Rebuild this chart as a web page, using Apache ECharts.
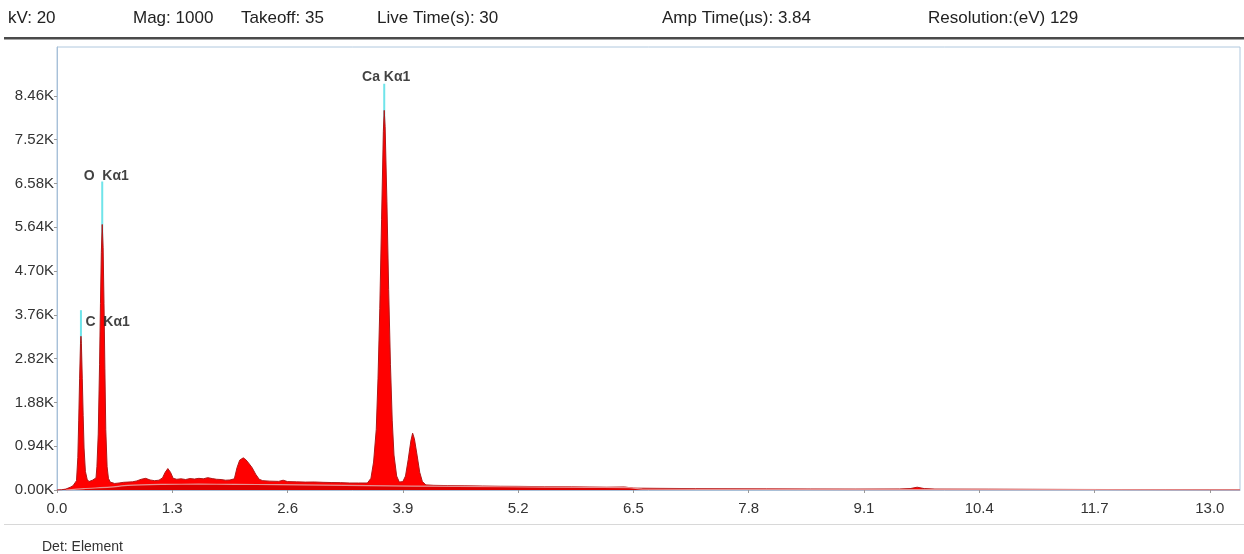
<!DOCTYPE html>
<html><head><meta charset="utf-8">
<script src="https://cdn.jsdelivr.net/npm/echarts@6/dist/echarts.min.js"></script>
<style>html,body{margin:0;padding:0;background:#fff}#c{width:1244px;height:554px}</style>
</head><body><div id="c"></div><script>
// Spectrum: energy (keV) and counts
const energies = [0.00,0.05,0.10,0.15,0.18,0.20,0.22,0.235,0.245,0.255,0.265,0.27,0.275,0.285,0.295,0.305,0.32,0.34,0.36,0.38,0.40,0.42,0.44,0.45,0.465,0.48,0.49,0.50,0.51,0.52,0.53,0.54,0.55,0.565,0.58,0.60,0.65,0.70,0.75,0.80,0.85,0.90,0.95,1.00,1.05,1.10,1.15,1.19,1.22,1.25,1.28,1.31,1.35,1.40,1.45,1.50,1.55,1.60,1.65,1.70,1.75,1.80,1.85,1.90,1.95,2.00,2.03,2.06,2.10,2.13,2.16,2.20,2.24,2.28,2.32,2.40,2.50,2.55,2.60,2.70,2.80,2.90,3.00,3.10,3.20,3.30,3.40,3.45,3.50,3.54,3.57,3.60,3.62,3.64,3.66,3.68,3.69,3.70,3.72,3.74,3.76,3.78,3.80,3.83,3.86,3.90,3.93,3.96,3.99,4.01,4.03,4.06,4.09,4.12,4.16,4.25,4.40,4.60,4.80,5.00,5.20,5.50,5.80,6.00,6.20,6.40,6.50,6.80,7.20,7.60,8.00,8.50,9.00,9.50,9.62,9.70,9.78,9.90,10.50,11.00,11.50,12.00,12.50,13.00,13.34];
const counts   = [0,5,20,60,90,110,200,700,1500,2400,3150,3300,3150,2400,1600,900,400,230,180,160,210,190,260,500,1200,2700,4000,5100,5700,5200,4000,2600,1300,500,250,170,140,150,165,170,175,195,230,250,215,200,210,260,380,460,380,250,230,240,225,245,235,250,240,265,245,230,225,210,215,240,480,640,690,650,580,480,340,230,200,190,185,210,180,175,170,172,165,160,158,150,150,150,150,250,600,1300,2400,3900,5800,7700,8150,7800,6200,4300,2700,1500,750,300,170,180,300,650,1050,1220,1100,750,380,180,110,100,95,90,85,80,78,72,68,64,60,65,40,35,30,28,25,22,20,22,30,60,30,20,18,15,12,10,8,6,5];
// Fitted background under the spectrum
const bgEnergies = [0.10,0.30,0.60,0.80,1.20,1.60,2.00,2.50,3.00,3.50,4.00,5.00,6.00,6.45,6.60,8.00,10.00,13.34];
const bgCounts   = [0,30,60,100,120,125,120,115,105,95,85,70,55,50,20,12,8,5];
// Element marker lines
const markerNames    = ['C  Kα1','O  Kα1','Ca Kα1'];
const markerEnergies = [0.27, 0.51, 3.69];
const markerHeights  = [3860, 6620, 8720];
// Header info and tick labels
const headerItems = ['kV: 20','Mag: 1000','Takeoff: 35','Live Time(s): 30','Amp Time(µs): 3.84','Resolution:(eV) 129'];
const footerText = 'Det: Element';
const xTickValues = [0,1.3,2.6,3.9,5.2,6.5,7.8,9.1,10.4,11.7,13.0];
const yTickValues = [0,940,1880,2820,3760,4700,5640,6580,7520,8460];
const xMax = 13.34, yMax = 9510;

const headerX = [8,133,241,377,662,928];
const labelPos = [
  {position:'right', distance:4, offset:[0,12]},
  {position:'top', distance:0, offset:[4,2]},
  {position:'top', distance:0, offset:[2,1]}
];
const FONT = 'Liberation Sans, Arial, sans-serif';

const chart = echarts.init(document.getElementById('c'));
const series = [];
markerEnergies.forEach((e,i)=>{
  series.push({type:'line', data:[[e,0],[e,markerHeights[i]]], symbol:'none', silent:true, z:1,
    lineStyle:{color:'#70e4ea', width:2}});
});
series.push({type:'line', data:energies.map((e,i)=>[e,counts[i]]), symbol:'none', z:3,
  lineStyle:{color:'#b01818', width:1}, areaStyle:{color:'#ff0000', opacity:1}});
series.push({type:'line', data:bgEnergies.map((e,i)=>[e,bgCounts[i]]), symbol:'none', z:4, smooth:0.3,
  lineStyle:{color:'#e89090', width:1.2}, areaStyle:{color:'#dd0000', opacity:1}});
series.push({type:'scatter', symbolSize:1, z:5, itemStyle:{color:'rgba(0,0,0,0)'},
  data: markerEnergies.map((e,i)=>({value:[e,markerHeights[i]],
    label:Object.assign({show:true, formatter:markerNames[i], color:'#111', fontWeight:'bold',
      fontSize:14, fontFamily:FONT}, labelPos[i])}))});

const graphic = headerItems.map((t,i)=>({type:'text', left:headerX[i], top:10,
  style:{text:t, fontSize:17, fill:'#222', fontFamily:FONT}}));
graphic.push({type:'rect', shape:{x:4,y:37,width:1240,height:2.5}, style:{fill:'#4a4a4a'}});
graphic.push({type:'rect', shape:{x:4,y:524,width:1240,height:1}, style:{fill:'#d8d8d8'}});
graphic.push({type:'text', left:42, top:540, style:{text:footerText, fontSize:14, fill:'#333', fontFamily:FONT}});

chart.setOption({
  animation:false,
  backgroundColor:'#ffffff',
  grid:{left:57, right:4, top:47, bottom:64, show:true, borderColor:'#b0c8de', borderWidth:1, backgroundColor:'#fff'},
  xAxis:{type:'value', min:0, max:xMax,
    axisLine:{lineStyle:{color:'#a8c0d8'}},
    axisTick:{show:true, length:3, customValues:xTickValues, lineStyle:{color:'#999'}},
    splitLine:{show:false},
    axisLabel:{fontSize:15, color:'#333', margin:11, fontFamily:FONT, customValues:xTickValues,
      formatter:v=> v.toFixed(1)}},
  yAxis:{type:'value', min:0, max:yMax,
    axisLine:{show:true, lineStyle:{color:'#a8c0d8'}},
    axisTick:{show:true, length:3, customValues:yTickValues, lineStyle:{color:'#999'}},
    splitLine:{show:false},
    axisLabel:{fontSize:15, color:'#333', margin:3, fontFamily:FONT, customValues:yTickValues,
      formatter:v=> (v/1000).toFixed(2)+'K'}},
  graphic:graphic,
  series:series
});
</script></body></html>
